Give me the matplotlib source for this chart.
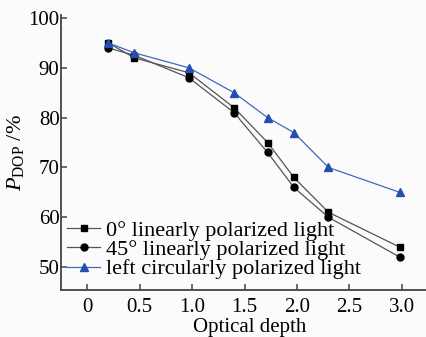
import matplotlib
matplotlib.use("Agg")
import matplotlib.pyplot as plt

depth = [0.2, 0.45, 0.97, 1.4, 1.72, 1.97, 2.3, 2.98]
lin0 = [95, 92, 89, 82, 75, 68, 61, 54]
lin45 = [94, 92.5, 88, 81, 73, 66, 60, 52]
circ = [95, 93, 90, 85, 80, 77, 70, 65]
labels = ["0° linearly polarized light", "45° linearly polarized light",
          "left circularly polarized light"]
xticks = [0, 0.5, 1.0, 1.5, 2.0, 2.5, 3.0]
xticklabels = ["0", "0.5", "1.0", "1.5", "2.0", "2.5", "3.0"]
yticks = [50, 60, 70, 80, 90, 100]

plt.rcParams['font.family'] = ['Liberation Serif', 'DejaVu Serif']
plt.rcParams['mathtext.fontset'] = 'custom'
plt.rcParams['mathtext.rm'] = 'Liberation Serif'
plt.rcParams['mathtext.it'] = 'Liberation Serif:italic'
plt.rcParams['mathtext.bf'] = 'Liberation Serif:bold'

fig = plt.figure(figsize=(4.27, 3.37), dpi=100, facecolor='#fbfbfb')
ax = fig.add_axes([61/427, 1 - 290/337, (426-61)/427, (290-15)/337])
ax.set_facecolor('#fbfbfb')

ax.plot(depth, lin0, color='#555555', lw=0.9, marker='s', ms=5,
        mfc='black', mec='black', label=labels[0])
ax.plot(depth, lin45, color='#555555', lw=0.9, marker='o', ms=5,
        mfc='black', mec='black', label=labels[1])
ax.plot(depth, circ, color='#4068c0', lw=0.9, marker='^', ms=6,
        mfc='#2250b0', mec='#2250b0', label=labels[2])

ax.set_xlim(-0.25, 3.23)
ax.set_ylim(45.4, 100.6)
ax.set_xticks(xticks)
ax.set_xticklabels(xticklabels)
ax.set_yticks(yticks)
for s in ['top', 'right']:
    ax.spines[s].set_visible(False)
for s in ['left', 'bottom']:
    ax.spines[s].set_color('#444444')
    ax.spines[s].set_linewidth(1.3)
ax.tick_params(direction='in', length=4, width=1.1, color='#444444',
               labelsize=15)
ax.tick_params(axis='x', pad=6)
ax.tick_params(axis='y', pad=1)

ax.set_xlabel('Optical depth', fontsize=15)
ax.xaxis.set_label_coords((250-61)/365, -(318-290)/275)
ax.xaxis.label.set_va('top')
ax.set_ylabel(r'$\mathit{P}_{\mathregular{DOP}}$ /%', fontsize=16)
ax.yaxis.set_label_coords((16-61)/365, 0.5)
ax.yaxis.label.set_va('center')

leg = ax.legend(loc='upper left', bbox_to_anchor=(6/365, (290-220)/275),
                frameon=False, fontsize=16, handlelength=1.5,
                handletextpad=0.25, labelspacing=-0.05, borderaxespad=0.0,
                borderpad=0.0)

fig.savefig('out.png', dpi=100, facecolor=fig.get_facecolor())
